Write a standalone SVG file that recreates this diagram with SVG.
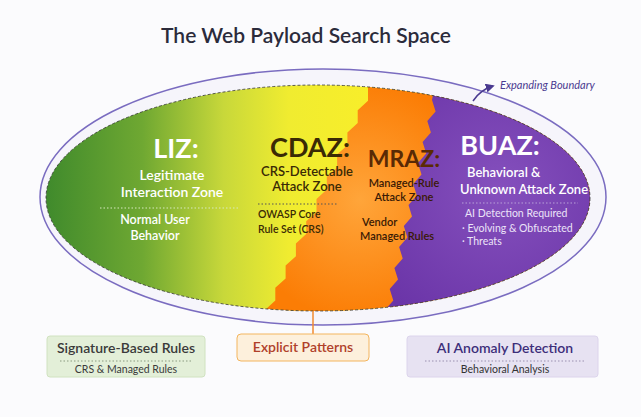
<svg xmlns="http://www.w3.org/2000/svg" width="641" height="417" viewBox="0 0 641 417">
<defs>
<linearGradient id="gy" x1="45" y1="0" x2="370" y2="0" gradientUnits="userSpaceOnUse">
<stop offset="0" stop-color="#3f8a2c"/><stop offset="0.3" stop-color="#6fa832"/><stop offset="0.55" stop-color="#c8d83a"/><stop offset="0.75" stop-color="#f0ec30"/><stop offset="1" stop-color="#f8ee2a"/></linearGradient>
<radialGradient id="go" cx="360" cy="200" r="120" gradientUnits="userSpaceOnUse"><stop offset="0" stop-color="#ffa53a"/><stop offset="1" stop-color="#fb7d05"/></radialGradient>
<radialGradient id="gp" cx="500" cy="190" r="150" gradientUnits="userSpaceOnUse"><stop offset="0" stop-color="#8550bd"/><stop offset="1" stop-color="#6b35a8"/></radialGradient>
<linearGradient id="c1"><stop offset="0" stop-color="#9cc070"/><stop offset="1" stop-color="#f0b040"/></linearGradient>
<linearGradient id="c2"><stop offset="0" stop-color="#f08030"/><stop offset="1" stop-color="#7a4aa0"/></linearGradient>
<clipPath id="ell"><ellipse cx="318" cy="198" rx="272" ry="113"/></clipPath>
<marker id="ah" viewBox="0 0 10 10" refX="8" refY="5" markerWidth="6" markerHeight="6" orient="auto"><path d="M0,0L10,5L0,10z" fill="#4a3a90"/></marker>
</defs>
<style>
text{font-family:Lato,"Liberation Sans",sans-serif}
.big{font-size:27px;font-weight:700}
.w{fill:#fff}
.s{font-weight:600}
.dot{stroke-dasharray:1.5 2;stroke-width:1;fill:none}
.bx{stroke-width:1}
</style>
<rect width="641" height="417" fill="#fbfbfd"/>
<text x="306" y="43" text-anchor="middle" font-size="21" fill="#2b2b3b" font-weight="600">The Web Payload Search Space</text>
<g id="space">
<ellipse cx="323" cy="197" rx="283" ry="128" fill="#f6f5fb" stroke="#7a6cc0" stroke-width="1.5"/>
<g clip-path="url(#ell)">
<rect x="40" y="80" width="560" height="240" fill="url(#gy)"/>
<polygon fill="url(#go)" points="368,60 368,88 368,100.8 357.7,110.2 357.7,123 347.4,132.4 347.4,145.2 337.1,154.6 337.1,167.4 326.8,176.8 326.8,189.6 316.5,199 316.5,211.8 306.2,221.2 306.2,234 295.9,243.4 295.9,256.2 285.6,265.6 285.6,278.4 275.3,287.8 275.3,300.6 265,310 262,340 650,340 650,60"/>
<polygon fill="url(#gp)" points="440,60 432,100 435.6,111.4 427.3,121 430.9,132.4 422.6,142 426.2,153.4 417.9,163 421.5,174.4 413.2,184 416.8,195.4 408.5,205 412,216.4 403.8,226 407.4,237.4 399.1,247 402.7,258.4 394.4,268 398,279.4 389.7,289 393.3,300.4 385,310 383,340 650,340 650,60"/>
</g>
<ellipse cx="318" cy="198" rx="272" ry="113" fill="none" stroke="#333" stroke-width="0.8" stroke-dasharray="3 2"/>
</g>
<g id="liz">
<text x="176" y="158" text-anchor="middle" class="big w">LIZ:</text>
<text x="172" y="180" text-anchor="middle" font-size="14" class="w s">Legitimate</text>
<text x="172" y="197" text-anchor="middle" font-size="14" class="w s">Interaction Zone</text>
<line x1="100" y1="208" x2="240" y2="208" class="dot" stroke="#d8e8c0"/>
<text x="155" y="224" text-anchor="middle" font-size="12.5" class="w s">Normal User</text>
<text x="155" y="240" text-anchor="middle" font-size="12.5" class="w s">Behavior</text>
</g>
<g id="cdaz">
<text x="310" y="157" text-anchor="middle" class="big" fill="#3a2a05">CDAZ:</text>
<text x="307" y="176" text-anchor="middle" font-size="13" class="s" fill="#3a2a05">CRS-Detectable</text>
<text x="307" y="191" text-anchor="middle" font-size="13" class="s" fill="#3a2a05">Attack Zone</text>
<line x1="258" y1="204" x2="338" y2="204" class="dot" stroke="#555"/>
<text x="258" y="218" font-size="10.5" class="s" fill="#3a2a05">OWASP Core</text>
<text x="258" y="233" font-size="10.5" class="s" fill="#3a2a05">Rule Set (CRS)</text>
</g>
<g id="mraz">
<text x="404" y="167" text-anchor="middle" font-size="23" font-weight="700" fill="#5a2a05">MRAZ:</text>
<text x="404" y="187" text-anchor="middle" font-size="11" class="s" fill="#3a1a05">Managed-Rule</text>
<text x="404" y="201" text-anchor="middle" font-size="11" class="s" fill="#3a1a05">Attack Zone</text>
<text x="362" y="226" font-size="11" class="s" fill="#3a1a05">Vendor</text>
<text x="360" y="240" font-size="11" class="s" fill="#3a1a05">Managed Rules</text>
</g>
<g id="buaz">
<text x="500" y="155" text-anchor="middle" class="big w">BUAZ:</text>
<text x="467" y="177" font-size="13" class="w s">Behavioral &amp;</text>
<text x="460" y="194" font-size="13" class="w s">Unknown Attack Zone</text>
<line x1="462" y1="203" x2="578" y2="203" class="dot" stroke="#b8a0d8"/>
<text x="465" y="217" font-size="10.5" fill="#ece4f8">AI Detection Required</text>
<text x="462" y="232" font-size="10.5" fill="#ece4f8">· Evolving &amp; Obfuscated</text>
<text x="462" y="245" font-size="10.5" fill="#ece4f8">· Threats</text>
</g>
<g id="boundary">
<text x="500" y="89" font-size="11" font-style="italic" fill="#4a3a90">Expanding Boundary</text>
</g>
<g id="connectors">
<path d="M473,101 Q480,90 493,86" fill="none" stroke="#4a3a90" stroke-width="1.5" marker-end="url(#ah)"/>
<line x1="313" y1="311" x2="313" y2="334" stroke="#f08a30" stroke-width="1.5"/>
<line x1="205" y1="347" x2="237" y2="347" stroke="url(#c1)" stroke-width="1.5"/>
<line x1="369" y1="347" x2="407" y2="347" stroke="url(#c2)" stroke-width="1.5"/>
</g>
<g id="sig">
<rect x="47" y="336" width="158" height="41" rx="3" fill="#e3efd8" stroke="#d0e2c0" class="bx"/>
<text x="126" y="353" text-anchor="middle" font-size="14" class="s" fill="#3a3a3a">Signature-Based Rules</text>
<line x1="60" y1="361" x2="193" y2="361" class="dot" stroke="#8a9a80"/>
<text x="126" y="373" text-anchor="middle" font-size="10.5" fill="#3a3a3a">CRS &amp; Managed Rules</text>
</g>
<g id="explicit">
<rect x="237" y="334" width="132" height="27" rx="4" fill="#fdf0dc" stroke="#f3b55e" class="bx"/>
<text x="303" y="352" text-anchor="middle" font-size="14" class="s" fill="#b0402a">Explicit Patterns</text>
</g>
<g id="ai">
<rect x="407" y="336" width="191" height="41" rx="3" fill="#e7e2f2" stroke="#dcd4ec" class="bx"/>
<text x="505" y="353" text-anchor="middle" font-size="14" class="s" fill="#3d2e7a">AI Anomaly Detection</text>
<line x1="425" y1="361" x2="585" y2="361" class="dot" stroke="#9a90b0"/>
<text x="505" y="373" text-anchor="middle" font-size="10.5" fill="#333">Behavioral Analysis</text>
</g>
</svg>
